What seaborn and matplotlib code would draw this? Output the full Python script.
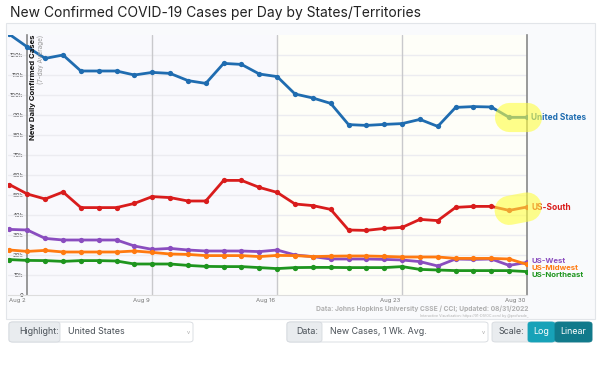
import pandas as pd
import seaborn as sns
import matplotlib.pyplot as plt
import matplotlib.dates as mdates
from matplotlib.patches import Rectangle, FancyBboxPatch
from matplotlib.transforms import ScaledTranslation

dates = pd.date_range("2022-08-01", "2022-08-30", freq="D")

united_states = [130.3, 124.0, 118.3, 120.0, 112.0, 112.0, 112.0, 110.0, 111.3, 110.8,
                 107.2, 105.8, 115.8, 115.3, 110.5, 109.2, 100.5, 98.5, 95.8, 85.2,
                 84.8, 85.3, 85.7, 87.8, 84.3, 93.8, 94.2, 94.0, 88.8, 88.8]
us_south = [55.2, 50.5, 48.0, 51.5, 43.7, 43.7, 43.7, 45.8, 49.2, 48.7,
            47.0, 47.0, 57.3, 57.3, 53.8, 51.3, 45.5, 44.7, 42.8, 32.5,
            32.3, 33.3, 33.8, 37.8, 37.2, 43.8, 44.3, 44.3, 42.3, 44.0]
us_west = [32.8, 32.5, 28.3, 27.5, 27.5, 27.5, 27.5, 24.5, 22.8, 23.3,
           22.5, 22.0, 22.0, 22.0, 21.7, 22.5, 20.0, 19.2, 18.0, 18.0,
           18.0, 17.8, 17.5, 16.7, 14.5, 18.0, 17.8, 18.0, 14.8, 16.3]
us_midwest = [22.5, 21.8, 22.3, 21.5, 21.5, 21.5, 21.5, 22.0, 21.3, 20.5,
              20.3, 19.7, 19.7, 19.7, 19.2, 19.8, 19.7, 19.2, 19.4, 19.5,
              19.5, 19.3, 19.0, 19.0, 19.0, 18.3, 18.3, 18.3, 18.0, 15.3]
us_northeast = [17.7, 17.3, 17.2, 16.8, 17.2, 17.2, 17.0, 15.5, 15.5, 15.5,
                14.8, 14.3, 14.2, 14.2, 13.7, 13.2, 13.7, 13.8, 13.8, 13.7,
                13.7, 13.7, 14.2, 12.8, 12.5, 12.2, 12.2, 12.2, 12.2, 11.7]

regions = ["United States", "US-South", "US-West", "US-Midwest", "US-Northeast"]
series = [united_states, us_south, us_west, us_midwest, us_northeast]
highlighted = ["United States", "US-South"]
colors = {"United States": "#1f6cb0", "US-South": "#d91c1c", "US-West": "#8a4dbf",
          "US-Midwest": "#ff7a10", "US-Northeast": "#1e951e"}
# small vertical nudges (points) so the bottom labels don't pile up
label_nudge = {"United States": 0, "US-South": 0, "US-West": 1.2, "US-Midwest": -2.7, "US-Northeast": -2.6}

ytick_vals = list(range(0, 130, 10))
ytick_labels = ["0"] + [f"{v}k" for v in ytick_vals[1:]]
xtick_dates = pd.to_datetime(["2022-08-02", "2022-08-09", "2022-08-16", "2022-08-23", "2022-08-30"])
xtick_labels = ["Aug 2", "Aug 9", "Aug 16", "Aug 23", "Aug 30"]

df = pd.concat([pd.DataFrame({"date": dates, "cases": vals, "region": name})
                for name, vals in zip(regions, series)], ignore_index=True)

sns.set_theme(style="white")
plt.rcParams["font.family"] = ["Inter", "DejaVu Sans"]

W, H = 600, 386
fig = plt.figure(figsize=(6, 3.86), dpi=100)
fig.patch.set_facecolor("white")


def fx(x):
    return x / W


def fy(y):
    return 1 - y / H


# outer panel (behind the axes)
fig.patches.append(Rectangle((fx(6), fy(319)), fx(589), (319 - 23) / H, transform=fig.transFigure,
                             facecolor="#f9fafc", edgecolor="#e2e5e9", lw=0.8, zorder=-5))

ax = fig.add_axes([fx(8), fy(295), fx(519), (295 - 35) / H])
ax.set_facecolor("none")

# background bands
ax.axvspan(dates[0] - pd.Timedelta(hours=2), xtick_dates[2], color="#f9f9fd", zorder=0)
ax.axvspan(xtick_dates[2], xtick_dates[4], color="#fefef8", zorder=0)

for v in ytick_vals[1:]:
    ax.axhline(v, color="#ececf1", lw=1, zorder=1)
for d in xtick_dates[1:4]:
    ax.axvline(d, color="#c9c9cc", lw=1, zorder=1)

sns.lineplot(data=df, x="date", y="cases", hue="region", hue_order=regions, palette=colors,
             marker="o", markersize=3.8, markeredgewidth=0, linewidth=2, legend=False,
             ax=ax, zorder=3)

for name, vals in zip(regions, series):
    if name in highlighted:
        ax.plot(dates[-2:], vals[-2:], color="#ffff40", alpha=0.6, lw=21,
                solid_capstyle="round", zorder=4, clip_on=False)
    ax.annotate(name, xy=(dates[-1], vals[-1]), xytext=(3, label_nudge[name]),
                textcoords="offset points", va="center", ha="left",
                fontsize=6 if name in highlighted else 5.6,
                fontweight="bold", color=colors[name], annotation_clip=False)

ax.set_xlim(dates[0] - pd.Timedelta(hours=2), dates[-1])
ax.set_ylim(0, 130)
ax.set_yticks(ytick_vals)
ax.set_yticklabels(ytick_labels)
ax.set_xticks(xtick_dates)
ax.set_xticklabels(xtick_labels, ha="right")
ax.tick_params(axis="y", labelsize=4.3, colors="#333333", length=2, width=0.5, pad=1)
ax.tick_params(axis="x", labelsize=4.3, colors="#777777", length=4, width=0.6, pad=2.5, direction="in")
for lab in ax.get_xticklabels():
    lab.set_transform(lab.get_transform() + ScaledTranslation(-0.02, 0, fig.dpi_scale_trans))
ax.set_xlabel("")
ax.set_ylabel("")

ax.spines["left"].set_position(("data", mdates.date2num(xtick_dates[0])))
ax.spines["left"].set_color("#888888")
ax.spines["left"].set_linewidth(1.2)
ax.spines["right"].set_color("#888888")
ax.spines["right"].set_linewidth(1.2)
ax.spines["top"].set_visible(False)
ax.spines["bottom"].set_color("#dddddd")
ax.spines["bottom"].set_linewidth(0.8)

# axis title
fig.text(fx(33), fy(35), "New Daily Confirmed Cases", rotation=90, ha="center", va="top",
         fontsize=5.6, fontweight="bold", color="#111111")
fig.text(fx(41), fy(35), "(7-day Average)", rotation=90, ha="center", va="top",
         fontsize=4.6, color="#999999")

fig.text(fx(10), fy(17), "New Confirmed COVID-19 Cases per Day by States/Territories",
         ha="left", va="baseline", fontsize=10, color="#222222")

fig.text(fx(528), fy(309), "Data: Johns Hopkins University CSSE / CCI; Updated: 08/31/2022",
         ha="right", va="center", fontsize=4.8, fontweight="bold", color="#b0b0b0")
fig.text(fx(528), fy(315.5), "Interactive Visualization: https://91-DIVOC.com/ by @profwade_",
         ha="right", va="center", fontsize=2.6, color="#b0b0b0")


# controls row
def box(x0, x1, color, edge="#d5d9de"):
    fig.patches.append(FancyBboxPatch((fx(x0), fy(342)), fx(x1 - x0), 20 / H,
                                      boxstyle="round,pad=0,rounding_size=0.006",
                                      transform=fig.transFigure, facecolor=color,
                                      edgecolor=edge, lw=0.6, zorder=1))


box(9, 193, "white")
box(9, 60, "#e9ecef")
box(287, 488, "white")
box(287, 322, "#e9ecef")
box(492, 592, "#e9ecef")
box(528, 555, "#17a2b8", edge="#17a2b8")
box(555, 592, "#117a8b", edge="#117a8b")

ctrl = dict(va="center", fontsize=6.4, color="#495057")
fig.text(fx(19), fy(332), "Highlight:", **ctrl)
fig.text(fx(68), fy(332), "United States", **ctrl)
fig.text(fx(296), fy(332), "Data:", **ctrl)
fig.text(fx(330), fy(332), "New Cases, 1 Wk. Avg.", **ctrl)
fig.text(fx(499), fy(332), "Scale:", **ctrl)
fig.text(fx(541.5), fy(332), "Log", ha="center", va="center", fontsize=6.4, color="white")
fig.text(fx(573.5), fy(332), "Linear", ha="center", va="center", fontsize=6.4, color="white")
for cx in (188, 483):
    fig.text(fx(cx), fy(332), "v", ha="center", va="center", fontsize=4, color="#aaaaaa")

fig.savefig("out.png", dpi=100)
